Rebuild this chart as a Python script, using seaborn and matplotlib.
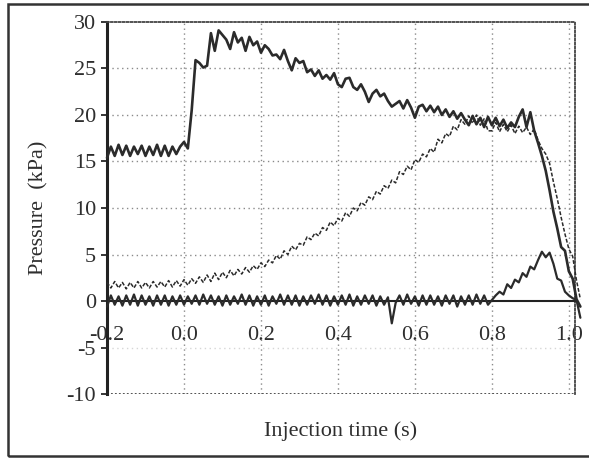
import matplotlib
matplotlib.use("Agg")
import matplotlib.pyplot as plt
import seaborn as sns
import pandas as pd
from matplotlib.patches import Rectangle

# ---------------- data ----------------
time_s = [-0.20, -0.19, -0.18, -0.17, -0.16, -0.15, -0.14, -0.13, -0.12, -0.11,
          -0.10, -0.09, -0.08, -0.07, -0.06, -0.05, -0.04, -0.03, -0.02, -0.01,
          0.00, 0.01, 0.02, 0.03, 0.04, 0.05, 0.06, 0.07, 0.08, 0.09,
          0.10, 0.11, 0.12, 0.13, 0.14, 0.15, 0.16, 0.17, 0.18, 0.19,
          0.20, 0.21, 0.22, 0.23, 0.24, 0.25, 0.26, 0.27, 0.28, 0.29,
          0.30, 0.31, 0.32, 0.33, 0.34, 0.35, 0.36, 0.37, 0.38, 0.39,
          0.40, 0.41, 0.42, 0.43, 0.44, 0.45, 0.46, 0.47, 0.48, 0.49,
          0.50, 0.51, 0.52, 0.53, 0.54, 0.55, 0.56, 0.57, 0.58, 0.59,
          0.60, 0.61, 0.62, 0.63, 0.64, 0.65, 0.66, 0.67, 0.68, 0.69,
          0.70, 0.71, 0.72, 0.73, 0.74, 0.75, 0.76, 0.77, 0.78, 0.79,
          0.80, 0.81, 0.82, 0.83, 0.84, 0.85, 0.86, 0.87, 0.88, 0.89,
          0.90, 0.91, 0.92, 0.93, 0.94, 0.95, 0.96, 0.97, 0.98, 0.99,
          1.00, 1.01, 1.02, 1.03]

p_upper = [15.4, 16.6, 15.6, 16.8, 15.7, 16.7, 15.6, 16.6, 15.8, 16.7,
           15.6, 16.6, 15.7, 16.8, 15.6, 16.7, 15.6, 16.6, 15.8, 16.6,
           17.1, 16.4, 20.5, 25.9, 25.6, 25.1, 25.3, 28.8, 26.9, 29.1,
           28.6, 28.1, 27.1, 28.9, 27.8, 28.3, 26.9, 28.4, 27.5, 27.9,
           26.7, 27.5, 27.1, 26.4, 26.5, 26.0, 27.0, 25.8, 24.8, 26.1,
           25.6, 25.8, 24.6, 24.9, 24.2, 24.8, 23.9, 24.3, 23.8, 24.5,
           23.3, 23.0, 23.9, 24.0, 23.0, 22.7, 23.3, 22.5, 21.4, 22.3,
           22.7, 22.0, 22.3, 21.5, 20.9, 21.2, 21.5, 20.7, 21.6, 20.8,
           19.7, 20.9, 21.1, 20.4, 21.0, 20.3, 20.9, 20.0, 20.6, 19.8,
           20.4, 19.6, 20.2, 19.5, 18.9, 19.9, 19.0, 19.7, 18.7, 19.8,
           18.9, 19.7, 18.8, 19.5, 18.6, 19.2, 18.7, 19.8, 20.6, 18.7,
           20.3, 18.3, 17.0, 15.6, 14.0, 11.9, 9.6, 7.8, 5.8, 5.4,
           3.2, 2.4, 0.2, -0.6]

p_middle = [2.0, 1.4, 2.1, 1.4, 2.0, 1.3, 2.0, 1.4, 2.1, 1.4,
            2.0, 1.4, 2.1, 1.5, 2.1, 1.5, 2.2, 1.5, 2.2, 1.6,
            2.3, 1.7, 2.4, 1.9, 2.6, 2.0, 2.8, 2.1, 3.0, 2.3,
            3.1, 2.5, 3.3, 2.7, 3.4, 2.9, 3.6, 3.1, 3.8, 3.4,
            4.1, 3.7, 4.4, 4.1, 4.9, 4.5, 5.4, 5.0, 5.9, 5.5,
            6.2, 6.0, 6.9, 6.6, 7.3, 7.0, 7.9, 7.6, 8.5, 8.1,
            8.9, 8.6, 9.5, 9.1, 10.0, 9.7, 10.6, 10.3, 11.2, 10.9,
            11.8, 11.5, 12.4, 12.1, 13.0, 12.7, 13.9, 13.6, 14.5, 14.1,
            15.2, 14.9, 15.8, 15.5, 16.4, 16.0, 17.4, 17.0, 18.0, 17.7,
            18.8, 18.4, 19.5, 19.0, 19.9, 19.1, 20.0, 18.9, 19.6, 18.3,
            18.3, 19.2, 18.2, 19.0, 18.2, 18.9, 18.0, 18.8, 18.1, 18.7,
            17.9, 18.5, 17.3, 16.4, 15.8, 14.8, 12.8, 11.0, 9.0, 7.2,
            5.6, 4.8, 2.2, 0.2]

p_lower = [-0.6, 0.6, -0.4, 0.5, -0.5, 0.6, -0.4, 0.7, -0.5, 0.6,
           -0.4, 0.5, -0.5, 0.6, -0.4, 0.6, -0.5, 0.5, -0.4, 0.6,
           -0.4, 0.5, -0.3, 0.6, -0.4, 0.7, -0.3, 0.6, -0.4, 0.5,
           -0.5, 0.6, -0.4, 0.5, -0.3, 0.7, -0.4, 0.6, -0.5, 0.5,
           -0.4, 0.6, -0.5, 0.5, -0.3, 0.7, -0.4, 0.6, -0.4, 0.6,
           -0.5, 0.5, -0.4, 0.6, -0.3, 0.7, -0.4, 0.6, -0.5, 0.5,
           -0.4, 0.6, -0.4, 0.7, -0.5, 0.5, -0.4, 0.6, -0.3, 0.6,
           -0.5, 0.5, -0.4, 0.4, -2.4, -0.2, 0.6, -0.4, 0.7, -0.3,
           0.5, -0.5, 0.6, -0.4, 0.6, -0.4, 0.5, -0.5, 0.6, -0.3,
           0.6, -0.6, 0.5, -0.4, 0.6, -0.4, 0.7, -0.3, 0.6, -0.4,
           0.1, 0.6, 1.0, 0.7, 1.8, 1.4, 2.3, 2.0, 3.0, 2.6,
           3.7, 3.4, 4.4, 5.3, 4.7, 5.2, 4.0, 2.4, 2.2, 1.0,
           0.6, 0.3, 0.1, -1.8]

x_ticks = [-0.2, 0.0, 0.2, 0.4, 0.6, 0.8, 1.0]
x_tick_labels = ["-0.2", "0.0", "0.2", "0.4", "0.6", "0.8", "1.0"]
y_ticks = [-10, -5, 0, 5, 10, 15, 20, 25, 30]
y_tick_labels = ["-10", "-5", "0", "5", "10", "15", "20", "25", "30"]
x_grid = [0.0, 0.2, 0.4, 0.6, 0.8, 1.0]
y_grid = [5, 10, 15, 20, 25]

df = pd.DataFrame({"t": time_s, "upper": p_upper, "middle": p_middle, "lower": p_lower})

# ---------------- figure ----------------
sns.set_theme(style="white")
plt.rcParams['font.family'] = ['Liberation Serif', 'DejaVu Serif']
fig = plt.figure(figsize=(5.89, 4.58), dpi=100)
ax = fig.add_axes([0.1817, 0.1397, 0.7945, 0.8123])

line_col = "#2b2b2b"
grid_col = "#8a8a8a"
text_col = "#2e2e2e"
fs = 16

# grid
for gx in x_grid:
    ax.axvline(gx, color=grid_col, linestyle=(0, (1, 2.5)), lw=1.0, zorder=1)
for gy in y_grid:
    ax.axhline(gy, color=grid_col, linestyle=(0, (1, 2.5)), lw=1.0, zorder=1)
ax.axhline(-5, color="#d6d6d6", linestyle=(0, (1, 2.5)), lw=1.0, zorder=1)
ax.axhline(-10, color="#444444", linestyle=(0, (1, 1.2)), lw=1.3, zorder=1)

sns.lineplot(data=df, x="t", y="lower", ax=ax, color=line_col, lw=1.6,
             estimator=None, sort=False)
sns.lineplot(data=df, x="t", y="middle", ax=ax, color=line_col, lw=1.1,
             estimator=None, sort=False, linestyle=(0, (2.5, 1.2)))
sns.lineplot(data=df, x="t", y="upper", ax=ax, color=line_col, lw=1.9,
             estimator=None, sort=False)
for ln in ax.lines[-3:]:
    ln.set_clip_on(False)
    ln.set_zorder(3)

ax.set_xlim(-0.2, 1.016)
ax.set_ylim(-10, 30)

# spines
ax.spines['bottom'].set_position(('data', 0))
ax.spines['bottom'].set_color("#222222")
ax.spines['bottom'].set_linewidth(1.5)
ax.spines['left'].set_color("#222222")
ax.spines['left'].set_linewidth(2.2)
for s in ['top', 'right']:
    ax.spines[s].set_visible(True)
    ax.spines[s].set_color("#444444")
    ax.spines[s].set_linestyle((0, (1, 1.2)))
    ax.spines[s].set_linewidth(1.3)

ax.set_xticks(x_ticks)
ax.set_xticklabels(x_tick_labels)
ax.set_yticks(y_ticks)
ax.set_yticklabels(y_tick_labels)
ax.tick_params(axis='x', length=0, pad=18, labelsize=fs)
ax.tick_params(axis='y', left=True, direction='out', length=4, width=1.3,
               pad=4, labelsize=fs)
for lab in ax.get_xticklabels() + ax.get_yticklabels():
    lab.set_color(text_col)

ax.set_xlabel("Injection time (s)", fontsize=fs, color=text_col)
ax.set_ylabel("Pressure  (kPa)", fontsize=fs, color=text_col)
ax.xaxis.set_label_coords(0.5, -0.074)
ax.yaxis.set_label_coords(-0.125, 0.5)

# outer frame
fig.add_artist(Rectangle((8 / 589, 2 / 458), 1.2, 452 / 458, transform=fig.transFigure,
                         fill=False, edgecolor="#333333", lw=1.8))

fig.savefig("out.png", dpi=100)
